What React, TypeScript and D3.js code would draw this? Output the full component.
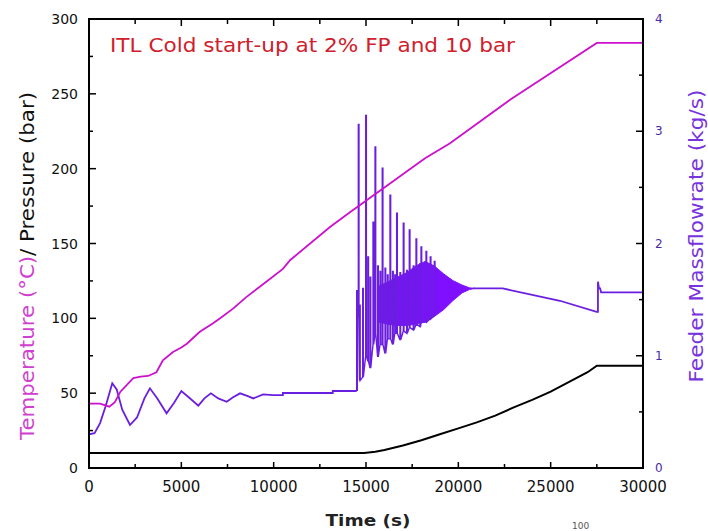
import React from 'react';
import * as d3 from 'd3';

// ---------- axes ----------
const timeTicks = [0, 5000, 10000, 15000, 20000, 25000, 30000];
const timeMinorTicks = [2500, 7500, 12500, 17500, 22500, 27500];
const leftTicks = [0, 50, 100, 150, 200, 250, 300];
const leftMinorTicks = [25, 75, 125, 175, 225, 275];
const rightTicks = [0, 1, 2, 3, 4];
const rightMinorTicks = [0.5, 1.5, 2.5, 3.5];

// ---------- Temperature (°C) ----------
const tempT = [0, 600, 1100, 1400, 1700, 2400, 2800, 3200, 3650, 4000, 4550, 5000, 5300, 6000, 6700, 7100, 7800, 8500, 9600, 10500, 10900, 13050, 14150, 18200, 19550, 22800, 27500, 30000];
const tempV = [43, 43, 41, 44, 51, 60, 61, 61.5, 64, 72, 77.5, 80.5, 83, 91, 96.5, 100, 106.5, 114, 124.5, 133, 139, 161, 171, 207, 217, 246, 284, 284];

// ---------- Pressure (bar) ----------
const presT = [0, 14900, 15500, 16000, 17000, 18000, 19000, 20000, 21000, 22000, 23000, 24000, 25000, 26000, 27000, 27500, 30000];
const presV = [10, 10, 10.8, 12, 15, 18.5, 22.5, 26.5, 30.5, 35, 40.5, 45.5, 51, 57.5, 64, 68.3, 68.3];

// ---------- Feeder mass flow rate (kg/s) ----------
const flowPreT = [0, 0, 300, 600, 900, 1260, 1500, 1800, 2220, 2600, 3000, 3300, 3700, 4200, 4600, 5000, 5400, 5920, 6250, 6600, 7000, 7460, 7800, 8180, 8600, 8900, 9430, 9960, 10500, 10500, 13200, 13200, 14495];
const flowPreV = [0, 0.3, 0.31, 0.4, 0.55, 0.755, 0.7, 0.52, 0.383, 0.45, 0.62, 0.71, 0.62, 0.487, 0.58, 0.686, 0.63, 0.555, 0.62, 0.665, 0.62, 0.59, 0.63, 0.665, 0.64, 0.62, 0.655, 0.65, 0.65, 0.668, 0.668, 0.686, 0.686];

// oscillation strokes (time, low, high)
const strokeT = [14495, 14540, 14585, 14650, 14820, 14985, 15100, 15220, 15380, 15490, 15630, 15760, 15880, 16030, 16160, 16300, 16440, 16560, 16660, 16840, 17020, 17200, 17345, 17560, 17710, 17920, 17980, 18250, 18480, 18700];
const strokeLow = [0.686, 1.35, 1.35, 0.78, 0.81, 1.0, 0.95, 0.89, 1.1, 1.2, 0.99, 1.1, 1.1, 1.02, 1.15, 1.15, 1.1, 1.2, 1.2, 1.14, 1.22, 1.2, 1.25, 1.23, 1.28, 1.26, 1.3, 1.3, 1.33, 1.36];
const strokeHigh = [1.58, 1.58, 3.06, 1.45, 1.6, 3.14, 1.88, 1.7, 2.19, 2.86, 1.8, 1.75, 2.67, 1.78, 1.72, 2.43, 1.75, 1.72, 2.27, 1.74, 2.18, 1.76, 2.12, 1.8, 2.04, 1.82, 1.97, 1.93, 1.88, 1.84];

// dense oscillation band envelope
const bandT = [15700, 16200, 16700, 17200, 17700, 18200, 18700, 19200, 19700, 20200, 20600, 20900];
const bandUpper = [1.62, 1.66, 1.7, 1.74, 1.8, 1.84, 1.8, 1.73, 1.67, 1.63, 1.605, 1.6];
const bandLower = [1.3, 1.28, 1.27, 1.27, 1.28, 1.3, 1.35, 1.41, 1.49, 1.56, 1.59, 1.6];

const flowPostT = [20800, 22400, 25500, 27490, 27560, 27560, 27620, 27680, 27730, 30000];
const flowPostV = [1.6, 1.6, 1.49, 1.39, 1.39, 1.66, 1.6, 1.6, 1.565, 1.565];

// ---------- layout ----------
const W = 708, H = 531;
const L = 89, R = 643, T = 19, B = 468;

const TEMP_COLOR = '#cc11cc';
const FLOW_COLOR = '#6a1ee0';
const BAND_COLOR = '#7f10ff';

export default function App() {
  const x = d3.scaleLinear().domain([0, 30000]).range([L, R]);
  const yL = d3.scaleLinear().domain([0, 300]).range([B, T]);
  const yR = d3.scaleLinear().domain([0, 4]).range([B, T]);

  const lineL = d3.line<[number, number]>().x(d => x(d[0])).y(d => yL(d[1]));
  const lineR = d3.line<[number, number]>().x(d => x(d[0])).y(d => yR(d[1]));

  const tempPts = tempT.map((t, i) => [t, tempV[i]] as [number, number]);
  const presPts = presT.map((t, i) => [t, presV[i]] as [number, number]);
  const prePts = flowPreT.map((t, i) => [t, flowPreV[i]] as [number, number]);
  const postPts = flowPostT.map((t, i) => [t, flowPostV[i]] as [number, number]);
  const oscPts: [number, number][] = [];
  strokeT.forEach((t, i) => {
    oscPts.push([t, strokeLow[i]], [t, strokeHigh[i]], [t + 35, strokeHigh[i]], [t + 35, strokeLow[i]]);
  });
  const band = d3.area<number>()
    .x((_, i) => x(bandT[i]))
    .y0((_, i) => yR(bandLower[i]))
    .y1((_, i) => yR(bandUpper[i]));

  const font = 'DejaVu Sans, Verdana, sans-serif';

  return (
    <div style={{ position: 'absolute', left: 0, top: 0 }}>
      <svg width={W} height={H} viewBox={`0 0 ${W} ${H}`} style={{ display: 'block', background: '#fff' }}>
        <rect x={0} y={0} width={W} height={H} fill="#fff" />

        {/* data */}
        <path d={lineL(presPts) || ''} fill="none" stroke="#000" strokeWidth={2} />
        <path d={band(bandT) || ''} fill={BAND_COLOR} stroke={BAND_COLOR} strokeWidth={1} />
        <path d={lineR(prePts) || ''} fill="none" stroke={FLOW_COLOR} strokeWidth={1.8} />
        <path d={lineR(oscPts) || ''} fill="none" stroke={FLOW_COLOR} strokeWidth={1.4} />
        <path d={lineR(postPts) || ''} fill="none" stroke={FLOW_COLOR} strokeWidth={1.8} />
        <path d={lineL(tempPts) || ''} fill="none" stroke={TEMP_COLOR} strokeWidth={1.8} />

        {/* frame */}
        <rect x={L} y={T} width={R - L} height={B - T} fill="none" stroke="#000" strokeWidth={2} />

        {/* ticks */}
        {timeTicks.map(t => (
          <g key={'tt' + t}>
            <line x1={x(t)} x2={x(t)} y1={B} y2={B - 6} stroke="#000" strokeWidth={1.5} />
            <line x1={x(t)} x2={x(t)} y1={T} y2={T + 7} stroke="#000" strokeWidth={1.5} />
            <text x={x(t)} y={492} fontFamily={font} fontSize={15} textAnchor="middle" fill="#111">{t}</text>
          </g>
        ))}
        {timeMinorTicks.map(t => (
          <g key={'tm' + t}>
            <line x1={x(t)} x2={x(t)} y1={B} y2={B - 4} stroke="#000" strokeWidth={1.5} />
            <line x1={x(t)} x2={x(t)} y1={T} y2={T + 5} stroke="#000" strokeWidth={1.5} />
          </g>
        ))}
        {leftTicks.map(v => (
          <g key={'lt' + v}>
            <line x1={L} x2={L + 7} y1={yL(v)} y2={yL(v)} stroke="#000" strokeWidth={1.5} />
            <text x={78} y={yL(v) + 5} fontFamily={font} fontSize={14} textAnchor="end" fill="#111">{v}</text>
          </g>
        ))}
        {leftMinorTicks.map(v => (
          <line key={'lm' + v} x1={L} x2={L + 4} y1={yL(v)} y2={yL(v)} stroke="#000" strokeWidth={1.5} />
        ))}
        {rightTicks.map(v => (
          <g key={'rt' + v}>
            <line x1={R} x2={R - 7} y1={yR(v)} y2={yR(v)} stroke="#000" strokeWidth={1.5} />
            <text x={655} y={yR(v) + 4} fontFamily={font} fontSize={12} textAnchor="start" fill="#4a2aa8">{v}</text>
          </g>
        ))}
        {rightMinorTicks.map(v => (
          <line key={'rm' + v} x1={R} x2={R - 4} y1={yR(v)} y2={yR(v)} stroke="#000" strokeWidth={1.5} />
        ))}

        {/* title */}
        <text x={110} y={52} fontFamily={font} fontSize={20} fill="#d0202c" textLength={405} lengthAdjust="spacingAndGlyphs">
          ITL Cold start-up at 2% FP and 10 bar
        </text>

        {/* axis titles */}
        <text x={368} y={526} fontFamily={font} fontSize={15} fontWeight="bold" textAnchor="middle" fill="#222" textLength={85} lengthAdjust="spacingAndGlyphs">
          Time (s)
        </text>
        <g transform="translate(34,266) scale(1.3,1) rotate(-90)">
          <text x={0} y={0} fontFamily={font} fontSize={15} textAnchor="middle" textLength={348} lengthAdjust="spacingAndGlyphs">
            <tspan fill="#d040d0">Temperature (°C)</tspan>
            <tspan fill="#111">/ Pressure (bar)</tspan>
          </text>
        </g>
        <g transform="translate(703,236) scale(1.3,1) rotate(-90)">
          <text x={0} y={0} fontFamily={font} fontSize={15} textAnchor="middle" fill="#7733dd" textLength={293} lengthAdjust="spacingAndGlyphs">
            Feeder Massflowrate (kg/s)
          </text>
        </g>

        {/* small text at the bottom edge */}
        <text x={572} y={529} fontFamily={font} fontSize={9} fill="#555">100</text>
      </svg>
    </div>
  );
}
